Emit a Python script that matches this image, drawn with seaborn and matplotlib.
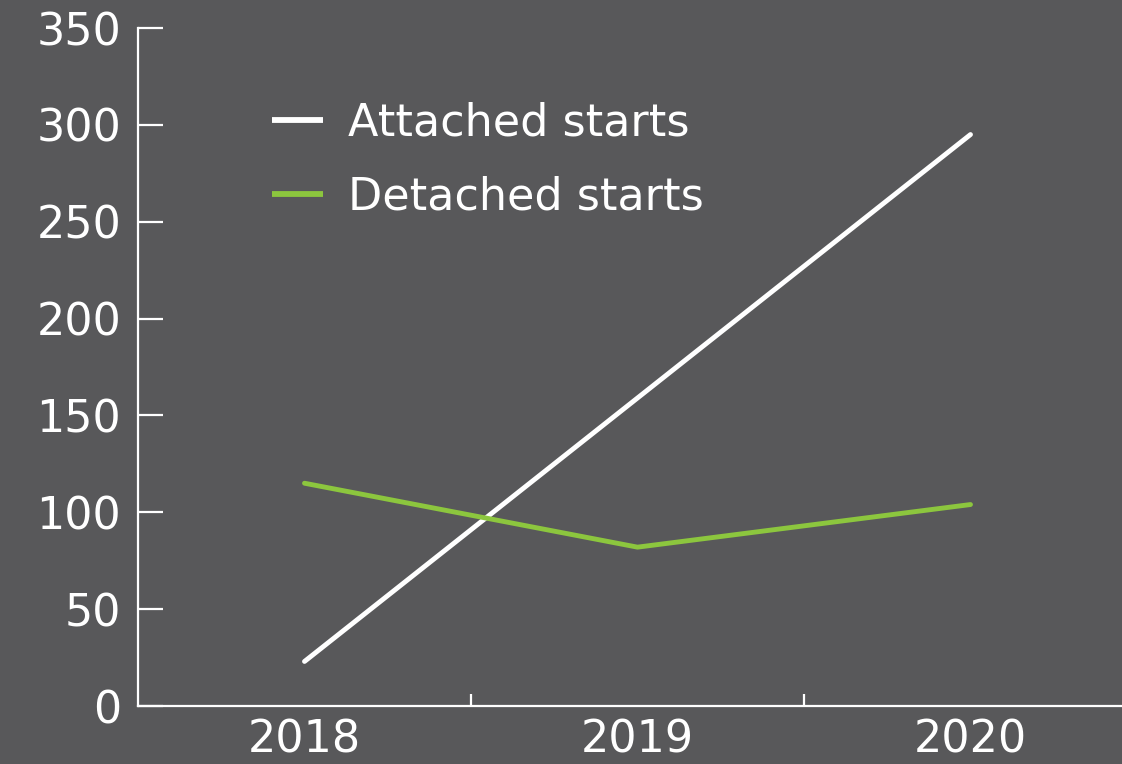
import matplotlib
matplotlib.use("Agg")
import matplotlib.pyplot as plt
from matplotlib.ticker import FixedLocator
import pandas as pd
import seaborn as sns

years = ["2018", "2019", "2020"]
attached_starts = [23, 159, 295]
detached_starts = [115, 82, 104]
series_names = ["Attached starts", "Detached starts"]
y_ticks = [0, 50, 100, 150, 200, 250, 300, 350]

BG = "#58585a"
WHITE = "#ffffff"
GREEN = "#8cc63e"

df = pd.DataFrame({
    "year": years * 2,
    "starts": attached_starts + detached_starts,
    "series": [series_names[0]] * len(years) + [series_names[1]] * len(years),
})

sns.set_theme(style="white")
plt.rcParams["font.family"] = ["DejaVu Sans"]

fig = plt.figure(figsize=(11.22, 7.64), dpi=100, facecolor=BG)
ax = fig.add_axes([138 / 1122, 58 / 764, 999 / 1122, 678 / 764])
ax.set_facecolor(BG)

sns.lineplot(
    data=df, x="year", y="starts", hue="series",
    palette={series_names[0]: WHITE, series_names[1]: GREEN},
    linewidth=3.5, ax=ax, legend=True,
)
for ln in ax.lines:
    ln.set_solid_capstyle("round")

ax.set_xlim(-0.5, 2.5)
ax.set_ylim(0, 350)
ax.set_yticks(y_ticks)
ax.set_xlabel("")
ax.set_ylabel("")

for side in ("top", "right"):
    ax.spines[side].set_visible(False)
for side in ("left", "bottom"):
    ax.spines[side].set_color(WHITE)
    ax.spines[side].set_linewidth(1.6)

ax.tick_params(axis="y", direction="in", length=18, width=1.6, color=WHITE,
               labelcolor=WHITE, labelsize=32, pad=12, left=True)
ax.tick_params(axis="x", which="major", length=0, labelcolor=WHITE,
               labelsize=32, pad=9)
ax.xaxis.set_minor_locator(FixedLocator([0.5, 1.5]))
ax.tick_params(axis="x", which="minor", direction="in", length=9, width=1.6,
               color=WHITE, bottom=True)

leg = ax.legend(
    loc="upper left", bbox_to_anchor=(272 / 1122, 1 - 102 / 764),
    bbox_transform=fig.transFigure, frameon=False, fontsize=32,
    handlelength=1.15, handletextpad=0.55, labelspacing=0.68, borderpad=0,
    borderaxespad=0,
)
for t in leg.get_texts():
    t.set_color(WHITE)
for h in leg.legend_handles:
    h.set_linewidth(4.2)
    h.set_solid_capstyle("butt")

fig.savefig("out.png", dpi=100, facecolor=BG)
